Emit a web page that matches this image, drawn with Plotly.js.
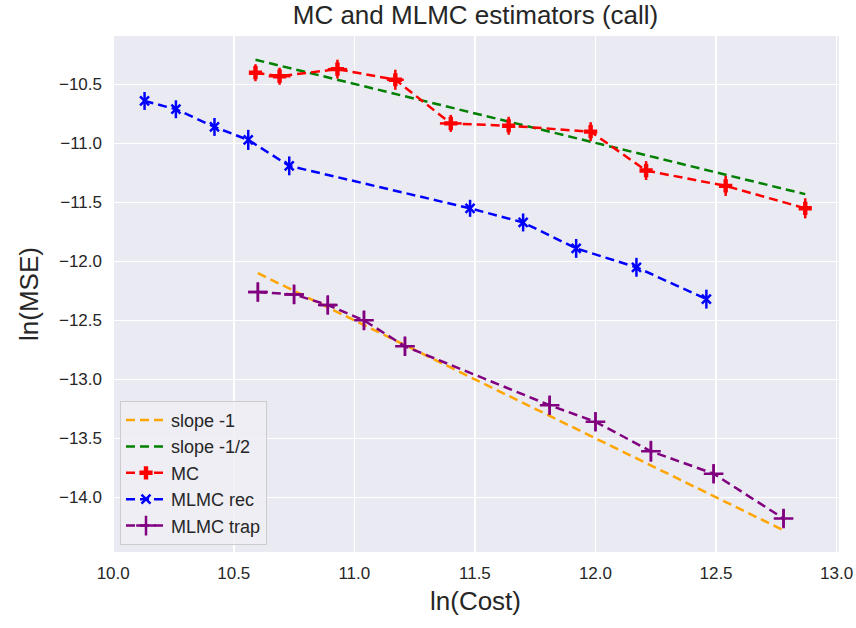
<!DOCTYPE html>
<html>
<head>
<meta charset="utf-8">
<script src="https://cdn.plot.ly/plotly-3.0.1.min.js"></script>
<style>html,body{margin:0;padding:0;background:#fff;} #chart{width:856px;height:628px;}</style>
</head>
<body>
<div id="chart"></div>
<script>
// ---- data ----
const slope1X = [10.60, 12.78];
const slope1Y = [-12.10, -14.28];
const slopeHalfX = [10.59, 12.87];
const slopeHalfY = [-10.29, -11.43];

const mcX = [10.59, 10.69, 10.93, 11.17, 11.40, 11.64, 11.98, 12.21, 12.54, 12.87];
const mcY = [-10.40, -10.43, -10.37, -10.46, -10.83, -10.85, -10.90, -11.23, -11.36, -11.55];
const mcYErr = [0.072, 0.072, 0.080, 0.085, 0.072, 0.076, 0.080, 0.080, 0.085, 0.085];
const mcXErr = [0.0, 0.045, 0.040, 0.035, 0.045, 0.0, 0.0, 0.005, 0.0, 0.0];

const recX = [10.13, 10.26, 10.42, 10.56, 10.73, 11.48, 11.70, 11.92, 12.17, 12.46];
const recY = [-10.64, -10.71, -10.86, -10.97, -11.19, -11.55, -11.67, -11.89, -12.05, -12.32];
const recYErr = [0.076, 0.076, 0.076, 0.085, 0.080, 0.072, 0.076, 0.080, 0.080, 0.080];

const trapX = [10.60, 10.75, 10.89, 11.04, 11.21, 11.81, 12.00, 12.23, 12.49, 12.78];
const trapY = [-12.26, -12.28, -12.37, -12.50, -12.72, -13.22, -13.36, -13.61, -13.80, -14.18];
const trapYErr = [0.080, 0.080, 0.076, 0.080, 0.080, 0.076, 0.076, 0.089, 0.076, 0.076];
const trapXErr = [0.040, 0.040, 0.035, 0.0, 0.0, 0.0, 0.0, 0.0, 0.0, 0.0];

const xTicks = [10.0, 10.5, 11.0, 11.5, 12.0, 12.5, 13.0];
const yTicks = [-14.0, -13.5, -13.0, -12.5, -12.0, -11.5, -11.0, -10.5];

const FONT = '"Liberation Sans", Arial, sans-serif';
const TXT = '#262626';
const dash = '9px,5px';

function eb(arr, color) {
  return {type: 'data', array: arr, visible: true, width: 0, thickness: 2.5, color: color};
}

const traces = [
  {x: slope1X, y: slope1Y, name: 'slope -1', mode: 'lines',
   line: {color: 'orange', width: 2.5, dash: dash}},
  {x: slopeHalfX, y: slopeHalfY, name: 'slope -1/2', mode: 'lines',
   line: {color: 'green', width: 2.5, dash: dash}},
  {x: mcX, y: mcY, name: 'MC', mode: 'lines+markers',
   line: {color: 'red', width: 2.5, dash: dash},
   marker: {symbol: 'cross', size: 11, color: 'red'},
   error_y: eb(mcYErr, 'red'), error_x: eb(mcXErr, 'red')},
  {x: recX, y: recY, name: 'MLMC rec', mode: 'lines+markers',
   line: {color: 'blue', width: 2.5, dash: dash},
   marker: {symbol: 'x-thin-open', size: 9, color: 'blue', line: {color: 'blue', width: 2.5}},
   error_y: eb(recYErr, 'blue')},
  {x: trapX, y: trapY, name: 'MLMC trap', mode: 'lines+markers',
   line: {color: 'purple', width: 2.5, dash: dash},
   marker: {symbol: 'cross-thin-open', size: 14, color: 'purple', line: {color: 'purple', width: 2.5}},
   error_y: eb(trapYErr, 'purple'), error_x: eb(trapXErr, 'purple')}
];

const layout = {
  width: 856, height: 628,
  margin: {l: 112, r: 17, t: 36, b: 76},
  paper_bgcolor: '#ffffff',
  plot_bgcolor: '#EAEAF2',
  font: {family: FONT, color: TXT, size: 17},
  title: {text: 'MC and MLMC estimators (call)', x: 0.5555, xanchor: 'center', y: 0.976, yanchor: 'middle',
          font: {family: FONT, size: 26, color: TXT}},
  xaxis: {
    range: [9.995, 13.01], tickvals: xTicks, tickformat: '.1f',
    showgrid: true, gridcolor: '#ffffff', gridwidth: 1.5, zeroline: false,
    showline: false, ticks: '', ticklabelstandoff: 9,
    tickfont: {family: FONT, size: 17, color: TXT},
    title: {text: 'ln(Cost)', font: {family: FONT, size: 26, color: TXT}, standoff: 9}
  },
  yaxis: {
    range: [-14.464, -10.089], tickvals: yTicks, tickformat: '.1f',
    showgrid: true, gridcolor: '#ffffff', gridwidth: 1.5, zeroline: false,
    showline: false, ticks: '', ticklabelstandoff: 9,
    tickfont: {family: FONT, size: 17, color: TXT},
    title: {text: 'ln(MSE)', font: {family: FONT, size: 26, color: TXT}, standoff: 12}
  },
  showlegend: true,
  legend: {
    x: 0.011, y: 0.014, xanchor: 'left', yanchor: 'bottom',
    bgcolor: 'rgba(238,238,245,0.85)', bordercolor: '#cccccc', borderwidth: 1,
    font: {family: FONT, size: 18, color: TXT},
    itemwidth: 40, tracegroupgap: 0
  }
};

Plotly.newPlot('chart', traces, layout, {displayModeBar: false, staticPlot: true});
</script>
</body>
</html>
